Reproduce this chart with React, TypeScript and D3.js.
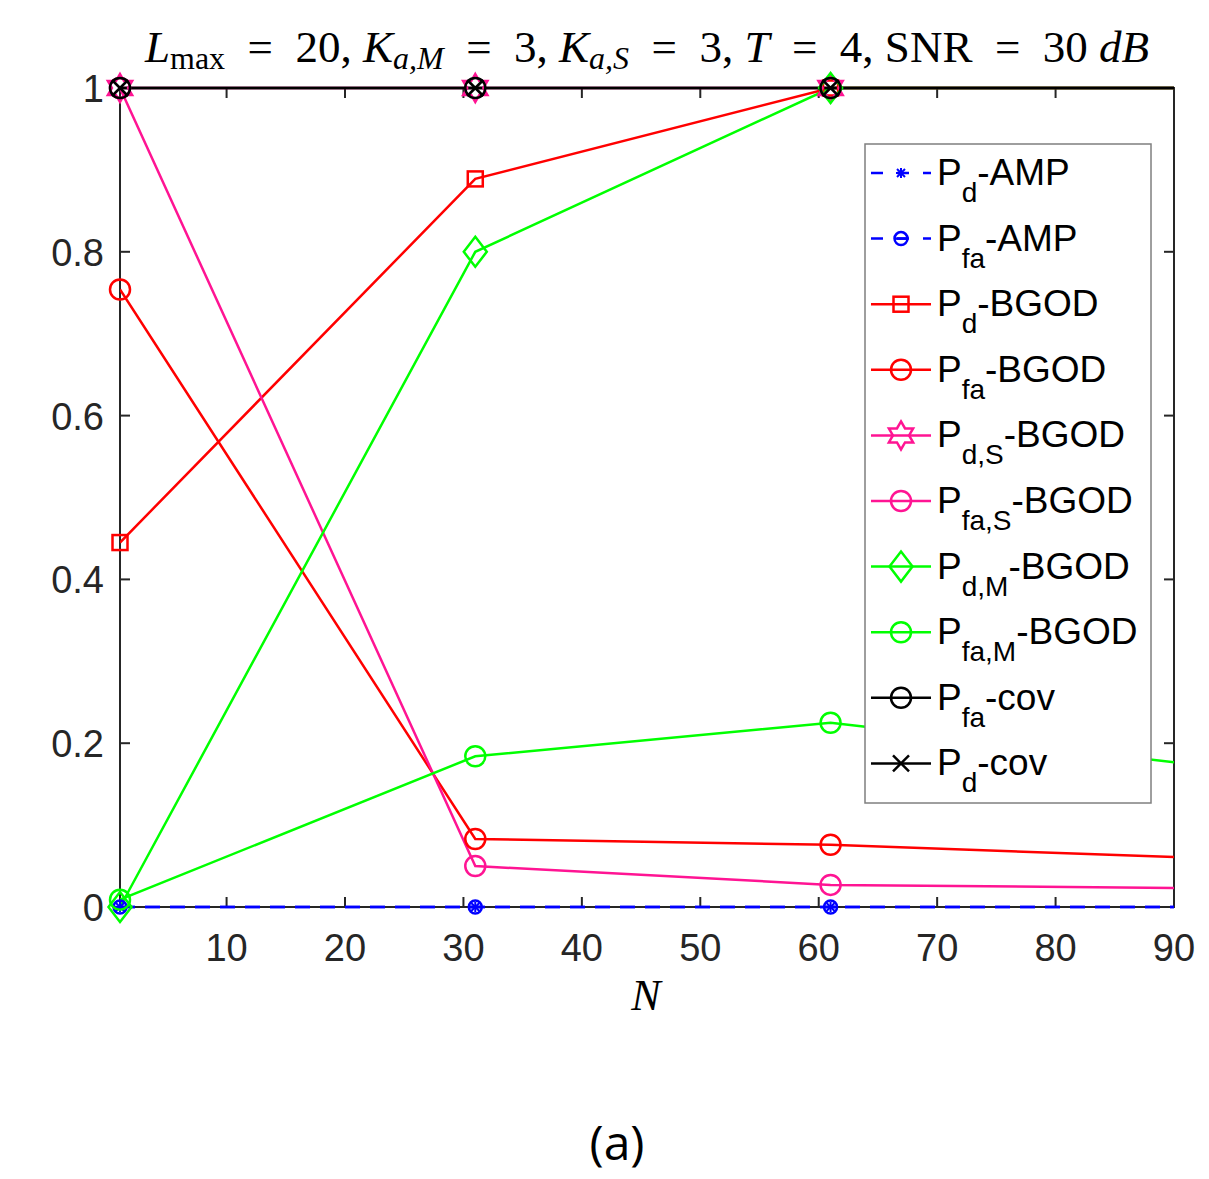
import React from 'react';
import * as d3 from 'd3';

// sample points (last one falls outside the x range and is clipped)
const nValues = [1, 31, 61, 91];

const pdAmp = [0, 0, 0, 0];
const pfaAmp = [0, 0, 0, 0];
const pdBgod = [0.445, 0.889, 1, 1];
const pfaBgod = [0.754, 0.083, 0.076, 0.0605];
const pdSBgod = [1, 1, 1, 1];
const pfaSBgod = [1, 0.05, 0.027, 0.023];
const pdMBgod = [0, 0.8, 1, 1];
const pfaMBgod = [0.009, 0.184, 0.225, 0.175];
const pfaCov = [1, 1, 1, 1];
const pdCov = [1, 1, 1, 1];

const xTicks = [10, 20, 30, 40, 50, 60, 70, 80, 90];
const yTicks = [0, 0.2, 0.4, 0.6, 0.8, 1];
const yTickLabels = ['0', '0.2', '0.4', '0.6', '0.8', '1'];

type Series = {
  name: string;
  sub: string;
  suffix: string;
  values: number[];
  color: string;
  dashed: boolean;
  marker: string;
};

const MAGENTA = '#ff1493';

const series: Series[] = [
  { name: 'P', sub: 'd', suffix: '-AMP', values: pdAmp, color: '#0000ff', dashed: true, marker: 'star' },
  { name: 'P', sub: 'fa', suffix: '-AMP', values: pfaAmp, color: '#0000ff', dashed: true, marker: 'smallcircle' },
  { name: 'P', sub: 'd', suffix: '-BGOD', values: pdBgod, color: '#ff0000', dashed: false, marker: 'square' },
  { name: 'P', sub: 'fa', suffix: '-BGOD', values: pfaBgod, color: '#ff0000', dashed: false, marker: 'circle' },
  { name: 'P', sub: 'd,S', suffix: '-BGOD', values: pdSBgod, color: MAGENTA, dashed: false, marker: 'hexagram' },
  { name: 'P', sub: 'fa,S', suffix: '-BGOD', values: pfaSBgod, color: MAGENTA, dashed: false, marker: 'circle' },
  { name: 'P', sub: 'd,M', suffix: '-BGOD', values: pdMBgod, color: '#00ff00', dashed: false, marker: 'diamond' },
  { name: 'P', sub: 'fa,M', suffix: '-BGOD', values: pfaMBgod, color: '#00ff00', dashed: false, marker: 'circle' },
  { name: 'P', sub: 'fa', suffix: '-cov', values: pfaCov, color: '#000000', dashed: false, marker: 'circle' },
  { name: 'P', sub: 'd', suffix: '-cov', values: pdCov, color: '#000000', dashed: false, marker: 'x' },
];

function hexagramPath(r: number) {
  const pts: string[] = [];
  const inner = r * 0.577;
  for (let i = 0; i < 12; i++) {
    const a = -Math.PI / 2 + (i * Math.PI) / 6;
    const rr = i % 2 === 0 ? r : inner;
    pts.push(`${(rr * Math.cos(a)).toFixed(2)},${(rr * Math.sin(a)).toFixed(2)}`);
  }
  return 'M' + pts.join('L') + 'Z';
}

function Marker({ type, x, y, color }: { type: string; x: number; y: number; color: string }) {
  const common = { fill: 'none', stroke: color, strokeWidth: 2.5 };
  const t = `translate(${x},${y})`;
  switch (type) {
    case 'star':
      return (
        <g transform={t} {...common} strokeWidth={2}>
          <line x1={-5} y1={0} x2={5} y2={0} />
          <line x1={0} y1={-5} x2={0} y2={5} />
          <line x1={-4} y1={-4} x2={4} y2={4} />
          <line x1={-4} y1={4} x2={4} y2={-4} />
        </g>
      );
    case 'smallcircle':
      return (
        <g transform={t} {...common}>
          <circle r={6.5} />
          <line x1={-6} y1={0} x2={6} y2={0} />
        </g>
      );
    case 'square':
      return <rect transform={t} x={-7.5} y={-7.5} width={15} height={15} {...common} />;
    case 'circle':
      return <circle transform={t} r={10} {...common} />;
    case 'hexagram':
      return <path transform={t} d={hexagramPath(14)} {...common} />;
    case 'diamond':
      return <path transform={t} d="M0,-15L11.5,0L0,15L-11.5,0Z" {...common} />;
    case 'x':
      return (
        <g transform={t} {...common}>
          <line x1={-8} y1={-8} x2={8} y2={8} />
          <line x1={-8} y1={8} x2={8} y2={-8} />
        </g>
      );
    default:
      return null;
  }
}

export default function App() {
  const width = 1209;
  const height = 1179;
  const plot = { left: 120, right: 1174, top: 88, bottom: 907 };

  const x = d3.scaleLinear().domain([1, 90]).range([plot.left, plot.right]);
  const y = d3.scaleLinear().domain([0, 1]).range([plot.bottom, plot.top]);

  const line = d3
    .line<number>()
    .x((_, i) => x(nValues[i]))
    .y((d) => y(d));

  const axisColor = '#262626';
  const tickFont = 'Liberation Sans, Arial, Helvetica, sans-serif';
  const serif = 'Liberation Serif, Times New Roman, serif';

  const legend = { x: 865, y: 144, w: 286, h: 659, row0: 173, step: 65.6 };
  const eq = '\u2002=\u2002';

  return (
    <svg
      width={width}
      height={height}
      style={{ position: 'absolute', left: 0, top: 0, background: '#fff' }}
    >
      <defs>
        <clipPath id="plotClip">
          <rect x={plot.left} y={plot.top - 2} width={plot.right - plot.left} height={plot.bottom - plot.top + 4} />
        </clipPath>
      </defs>
      <rect width={width} height={height} fill="#fff" />

      {/* axes box */}
      <g stroke={axisColor} strokeWidth={2} fill="none">
        <rect x={plot.left} y={plot.top} width={plot.right - plot.left} height={plot.bottom - plot.top} />
        {xTicks.map((t) => (
          <g key={`xt${t}`}>
            <line x1={x(t)} x2={x(t)} y1={plot.bottom} y2={plot.bottom - 10} />
            <line x1={x(t)} x2={x(t)} y1={plot.top} y2={plot.top + 10} />
          </g>
        ))}
        {yTicks.map((t) => (
          <g key={`yt${t}`}>
            <line x1={plot.left} x2={plot.left + 10} y1={y(t)} y2={y(t)} />
            <line x1={plot.right} x2={plot.right - 10} y1={y(t)} y2={y(t)} />
          </g>
        ))}
      </g>

      {/* tick labels */}
      <g fill={axisColor} fontFamily={tickFont} fontSize={38}>
        {xTicks.map((t) => (
          <text key={`xl${t}`} x={x(t)} y={plot.bottom + 54} textAnchor="middle">
            {t}
          </text>
        ))}
        {yTicks.map((t, i) => (
          <text key={`yl${t}`} x={plot.left - 16} y={y(t) + 14} textAnchor="end">
            {yTickLabels[i]}
          </text>
        ))}
      </g>

      {/* series lines */}
      <g clipPath="url(#plotClip)">
        {series.map((s, i) => (
          <path
            key={`l${i}`}
            d={line(s.values) || ''}
            fill="none"
            stroke={s.color}
            strokeWidth={2.5}
            strokeDasharray={s.dashed ? '15,10' : undefined}
          />
        ))}
      </g>

      {/* markers, only for points inside the x range */}
      {series.map((s, i) => (
        <g key={`m${i}`}>
          {s.values.map((v, j) =>
            nValues[j] <= 90 ? (
              <Marker key={j} type={s.marker} x={x(nValues[j])} y={y(v)} color={s.color} />
            ) : null
          )}
        </g>
      ))}

      {/* legend */}
      <rect x={legend.x} y={legend.y} width={legend.w} height={legend.h} fill="#fff" stroke="#7f7f7f" strokeWidth={1.5} />
      {series.map((s, i) => {
        const ly = legend.row0 + i * legend.step;
        return (
          <g key={`lg${i}`}>
            <line
              x1={871}
              x2={931}
              y1={ly}
              y2={ly}
              stroke={s.color}
              strokeWidth={2.5}
              strokeDasharray={s.dashed ? '12,14' : undefined}
            />
            <Marker type={s.marker} x={901} y={ly} color={s.color} />
            <text x={937} y={ly + 12} fontFamily={tickFont} fontSize={37} fill="#000">
              {s.name}
              <tspan fontSize={28} dy={17}>
                {s.sub}
              </tspan>
              <tspan dy={-17}>{s.suffix}</tspan>
            </text>
          </g>
        );
      })}

      {/* title */}
      <text x={647} y={62} textAnchor="middle" fontFamily={serif} fontSize={45} fill="#000">
        <tspan fontStyle="italic">L</tspan>
        <tspan fontSize={32} dy={7}>max</tspan>
        <tspan dy={-7}>{eq}20, </tspan>
        <tspan fontStyle="italic">K</tspan>
        <tspan fontSize={32} dy={7} fontStyle="italic">a,M</tspan>
        <tspan dy={-7}>{eq}3, </tspan>
        <tspan fontStyle="italic">K</tspan>
        <tspan fontSize={32} dy={7} fontStyle="italic">a,S</tspan>
        <tspan dy={-7}>{eq}3, </tspan>
        <tspan fontStyle="italic">T</tspan>
        <tspan>{eq}4, SNR{eq}30 </tspan>
        <tspan fontStyle="italic">dB</tspan>
      </text>

      {/* x label */}
      <text x={646} y={1010} textAnchor="middle" fontFamily={serif} fontStyle="italic" fontSize={44} fill="#000">
        N
      </text>

      {/* panel label */}
      <text x={617} y={1160} textAnchor="middle" fontFamily="Open Sans, Lato, sans-serif" fontSize={48} fill="#000">
        (a)
      </text>
    </svg>
  );
}
